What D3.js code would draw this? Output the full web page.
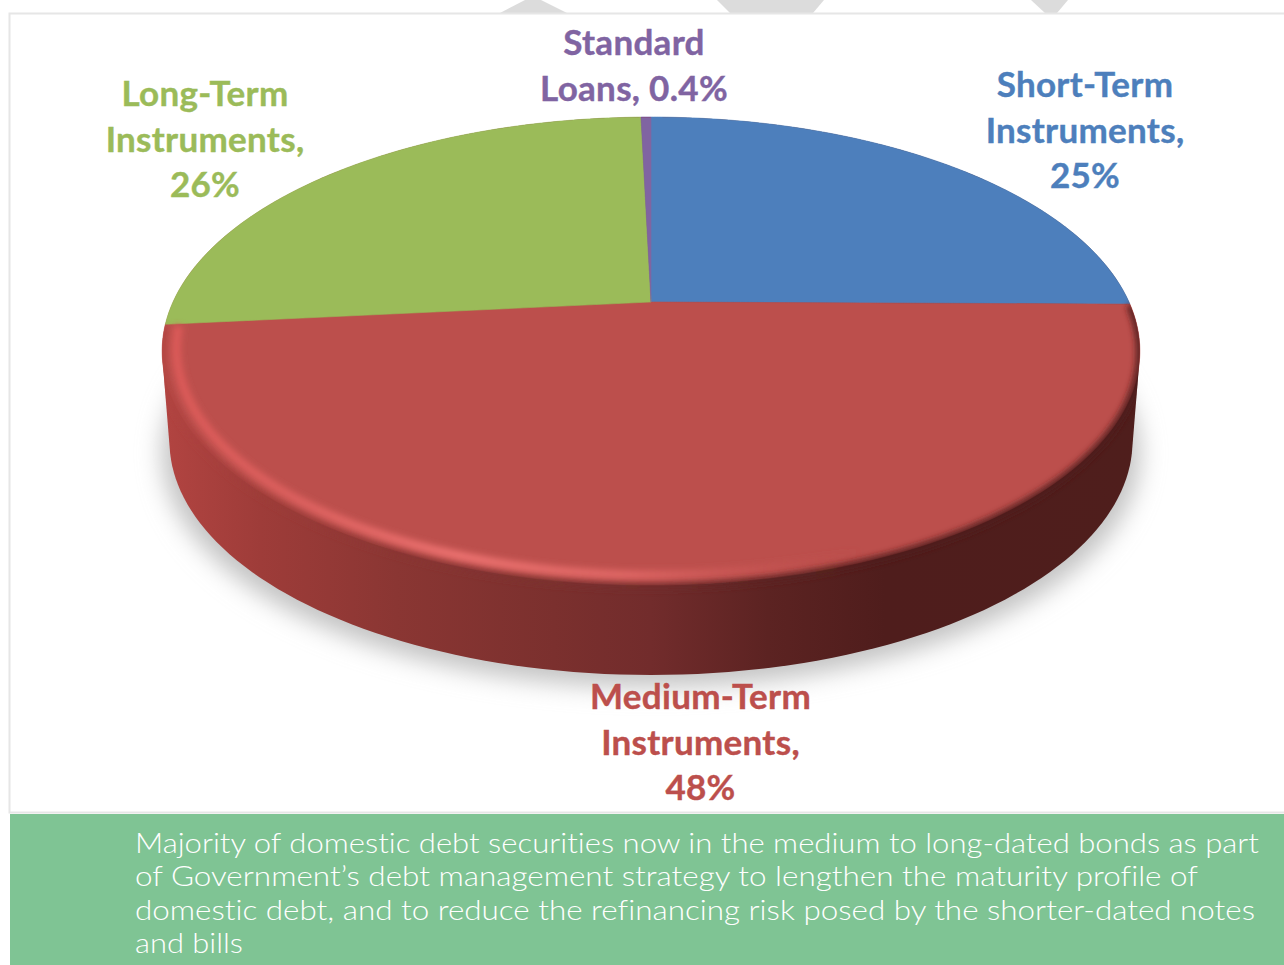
<!DOCTYPE html>
<html>
<head>
<meta charset="utf-8">
<script src="https://cdn.jsdelivr.net/npm/d3@7/dist/d3.min.js"></script>
<style>html,body{margin:0;padding:0;background:#fff;overflow:hidden}svg{display:block}text{font-variant-ligatures:none}</style>
</head>
<body>
<div id="chart"></div>
<script>
// ---- data ----
const categories = ["Short-Term Instruments", "Medium-Term Instruments", "Long-Term Instruments", "Standard Loans"];
const values = [25, 48, 26, 0.4];
const sliceColors = ["#4d7fbc", "#bc4f4c", "#9bbb59", "#8064a2"];
const labelLines = [
  ["Short-Term", "Instruments,", "25%"],
  ["Medium-Term", "Instruments,", "48%"],
  ["Long-Term", "Instruments,", "26%"],
  ["Standard", "Loans, 0.4%"]
];
const captionLines = [
  "Majority of domestic debt securities now in the medium to long-dated bonds as part",
  "of Government\u2019s debt management strategy to lengthen the maturity profile of",
  "domestic debt, and to reduce the refinancing risk posed by the shorter-dated notes",
  "and bills"
];

// ---- layout ----
const W = 1284, H = 965;
const cx = 651, cy = 302, A = 478, B = 223.7, k = 0.2095, depth = 90, baseScale = 0.985;
const labelPos = [[1085, 97], [700.5, 709], [205, 106], [634, 55]];
const labelLeading = 45.5;
const captionX = 135, captionY = [853, 886, 920, 953], captionW = [1124, 1063, 1120, 108];

const svg = d3.select("#chart").append("svg").attr("width", W).attr("height", H);
const defs = svg.append("defs");
const blur = (id, s) => defs.append("filter").attr("id", id)
  .attr("filterUnits", "userSpaceOnUse").attr("x", 0).attr("y", 0).attr("width", W).attr("height", H)
  .append("feGaussianBlur").attr("stdDeviation", s);
blur("b12", 12); blur("b4", 4); blur("b3", 3);

// perspective projection of a disc in pie coordinates
function proj(theta, r = 1, dy = 0, s = 1) {
  const u = r * Math.sin(theta), v = -r * Math.cos(theta), d = 1 - k * v;
  return [cx + s * A * u / d, cy + B * v / d + dy];
}
const TAU = 2 * Math.PI;
const samples = (a0, a1, n = 240) => d3.range(n + 1).map(i => a0 + (a1 - a0) * i / n);
const line = d3.line();
const pie = d3.pie().sort(null).value(d => d);
const arcs = pie(values);

// page furniture
svg.append("rect").attr("width", W).attr("height", H).attr("fill", "#fff");
const watermark = [
  [[500, 13], [567, 13], [541, 0], [525, 0]],
  [[717, 0], [824, 0], [813, 13], [730, 13]],
  [[1031, 0], [1068, 0], [1057, 13], [1045, 13]]
];
svg.selectAll("polygon.wm").data(watermark).join("polygon").attr("class", "wm")
  .attr("points", d => d.join(" ")).attr("fill", "#dcdcdc");
svg.append("rect").attr("x", 9.5).attr("y", 13.5).attr("width", W).attr("height", 799)
  .attr("fill", "#fff").attr("stroke", "#e6e6e6").attr("stroke-width", 2);

// shadow
const circle = samples(0, TAU);
svg.append("path")
  .attr("d", line(circle.map(t => proj(t, 1, depth + 12, 1.0))) + "Z")
  .attr("fill", "#c2c2c2").attr("filter", "url(#b12)");

// side wall
const sideStops = [[0, "#b24441"], [0.1, "#9e3c39"], [0.24, "#8a3633"], [0.4, "#7b302e"], [0.5, "#722c2c"], [0.62, "#5c2322"], [0.74, "#4f1d1c"], [1, "#4f1e1c"]];
const sideGrad = defs.append("linearGradient").attr("id", "side").attr("gradientUnits", "userSpaceOnUse")
  .attr("x1", cx - A - 10).attr("x2", cx + A + 10).attr("y1", 0).attr("y2", 0);
sideGrad.selectAll("stop").data(sideStops).join("stop")
  .attr("offset", d => d[0]).attr("stop-color", d => d[1]);
const hull = d3.polygonHull(circle.map(t => proj(t)).concat(circle.map(t => proj(t, 1, depth, baseScale))));
svg.append("path").attr("d", line(hull) + "Z").attr("fill", "url(#side)");

// top face
const wedge = a => {
  const pts = samples(a.startAngle, a.endAngle).map(t => proj(t));
  return line([[cx, cy]].concat(pts)) + "Z";
};
svg.append("g").selectAll("path").data(arcs).join("path")
  .attr("d", wedge).attr("fill", (d, i) => sliceColors[i])
  .attr("stroke", (d, i) => sliceColors[i]).attr("stroke-width", 0.6);

// soft front edge and bevel highlight
const med = arcs[1];
const sideClip = defs.append("clipPath").attr("id", "body");
sideClip.append("path").attr("d", line(hull) + "Z");
const frontArc = samples(med.startAngle, med.endAngle - 0.01);
const bevel = svg.append("g").attr("clip-path", "url(#body)");
bevel.append("path")
  .attr("d", line(frontArc.map(t => proj(t, 1.0, 1))))
  .attr("fill", "none").attr("stroke", "url(#side)").attr("stroke-width", 7).attr("filter", "url(#b3)");
const rimGrad = defs.append("linearGradient").attr("id", "rim").attr("gradientUnits", "userSpaceOnUse")
  .attr("x1", cx - A).attr("x2", cx + A).attr("y1", 0).attr("y2", 0);
rimGrad.selectAll("stop").data([
  [0, "#dc5a58", 1], [0.12, "#e06260", 0.9], [0.3, "#ec7270", 1], [0.48, "#e26866", 0.9], [0.62, "#cc5856", 0.45], [0.72, "#bc4f4c", 0]
]).join("stop").attr("offset", d => d[0]).attr("stop-color", d => d[1]).attr("stop-opacity", d => d[2]);
bevel.append("path")
  .attr("d", line(samples(med.startAngle + 0.6, med.endAngle - 0.01).map(t => proj(t, 0.972))))
  .attr("fill", "none").attr("stroke", "url(#rim)").attr("stroke-width", 9).attr("filter", "url(#b3)");

// labels
const labels = svg.append("g").attr("font-family", "Lato, Carlito, sans-serif")
  .attr("font-weight", 700).attr("font-size", 35).attr("letter-spacing", 0.3).attr("text-anchor", "middle");
labelLines.forEach((lines, i) => {
  labels.append("text").attr("fill", sliceColors[i]).attr("stroke", sliceColors[i]).attr("stroke-width", 0.4)
    .selectAll("tspan").data(lines).join("tspan")
    .attr("x", labelPos[i][0]).attr("y", (d, j) => labelPos[i][1] + j * labelLeading).text(d => d);
});

// caption band
svg.append("rect").attr("x", 10).attr("y", 814).attr("width", W - 10).attr("height", H - 814).attr("fill", "#7fc494");
svg.append("g").attr("font-family", "Lato, sans-serif").attr("font-weight", 300)
  .attr("font-size", 28).attr("fill", "#fff")
  .selectAll("text").data(captionLines).join("text")
  .attr("x", captionX).attr("y", (d, i) => captionY[i])
  .attr("textLength", (d, i) => captionW[i]).attr("lengthAdjust", "spacingAndGlyphs")
  .text(d => d);
</script>
</body>
</html>
